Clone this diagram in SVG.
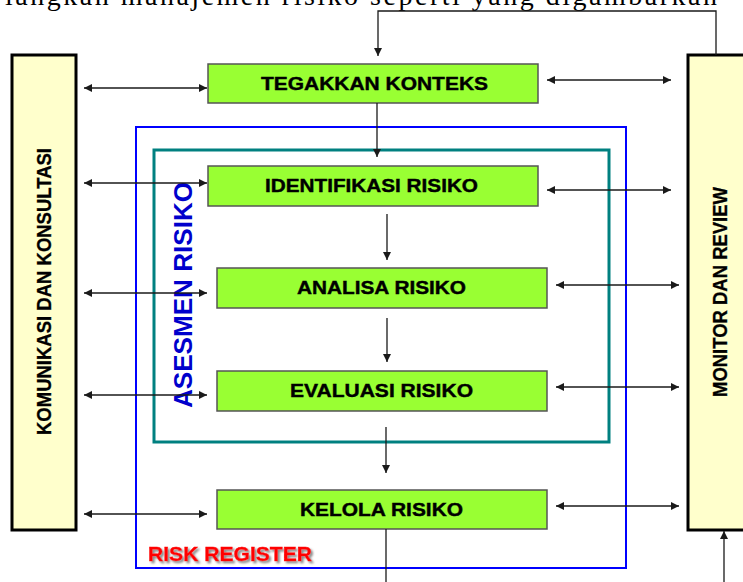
<svg xmlns="http://www.w3.org/2000/svg" width="743" height="582" viewBox="0 0 743 582">
  <style>
    .step { fill: #99FF33; stroke: #555555; stroke-width: 1.5; }
    .side { fill: #FFFFCC; stroke: #000000; stroke-width: 3; }
    .lbl { font-family: "Liberation Sans", Arial, sans-serif; font-weight: bold; font-size: 18px; fill: #000000; text-anchor: middle; stroke: #000000; stroke-width: 0.4; }
    .vlbl { font-family: "Liberation Sans", Arial, sans-serif; font-weight: bold; font-size: 20px; fill: #000000; text-anchor: middle; stroke: #000000; stroke-width: 0.3; }
    .wire { fill: none; stroke: #1a1a1a; stroke-width: 1.3; }
    .doc { font-family: "Liberation Serif", "Times New Roman", serif; font-size: 28px; fill: #000000; }
  </style>
  <defs>
    <marker id="head" viewBox="0 0 10 10" refX="10" refY="5" markerWidth="10" markerHeight="8" markerUnits="userSpaceOnUse" orient="auto-start-reverse">
      <path d="M0,0 L10,5 L0,10 z" fill="#1a1a1a"/>
    </marker>
    <filter id="shadow" x="-10%" y="-30%" width="130%" height="180%">
      <feGaussianBlur in="SourceAlpha" stdDeviation="0.8"/>
      <feOffset dx="2" dy="2" result="b"/>
      <feFlood flood-color="#888888"/>
      <feComposite in2="b" operator="in"/>
      <feMerge><feMergeNode/><feMergeNode in="SourceGraphic"/></feMerge>
    </filter>
  </defs>

  <rect width="743" height="582" fill="#FFFFFF"/>

  <!-- running document text above the figure, cut off by the top edge -->
  <text class="doc" x="5" y="5" textLength="712" lengthAdjust="spacing">langkah manajemen risiko seperti yang digambarkan</text>

  <!-- frames -->
  <g id="risk-register">
    <rect x="136" y="127" width="490" height="441" fill="none" stroke="#0000FF" stroke-width="2"/>
    <text x="148" y="561" font-family="'Liberation Sans', Arial, sans-serif" font-weight="bold" font-size="20" fill="#FF0000" stroke="#FF0000" stroke-width="0.4" textLength="164" lengthAdjust="spacingAndGlyphs" filter="url(#shadow)">RISK REGISTER</text>
  </g>
  <g id="asesmen-risiko">
    <rect x="154" y="150" width="455" height="292" fill="none" stroke="#008080" stroke-width="3"/>
    <text transform="translate(192,295) rotate(-90)" text-anchor="middle" font-family="'Liberation Sans', Arial, sans-serif" font-weight="bold" font-size="26" fill="#0000CC" textLength="226" lengthAdjust="spacingAndGlyphs">ASESMEN RISIKO</text>
  </g>

  <!-- side bars -->
  <g id="komunikasi">
    <rect class="side" x="12" y="55" width="64" height="475"/>
    <text class="vlbl" transform="translate(51,291.5) rotate(-90)" textLength="287" lengthAdjust="spacingAndGlyphs">KOMUNIKASI DAN KONSULTASI</text>
  </g>
  <g id="monitor">
    <rect class="side" x="688" y="55" width="60" height="475"/>
    <text class="vlbl" transform="translate(727,292) rotate(-90)" textLength="210" lengthAdjust="spacingAndGlyphs">MONITOR DAN REVIEW</text>
  </g>

  <!-- process steps -->
  <g id="tegakkan-konteks">
    <rect class="step" x="208" y="64" width="330" height="39"/>
    <text class="lbl" x="374.5" y="90" textLength="227" lengthAdjust="spacingAndGlyphs">TEGAKKAN KONTEKS</text>
  </g>
  <g id="identifikasi-risiko">
    <rect class="step" x="208" y="166" width="330" height="40"/>
    <text class="lbl" x="371.5" y="192" textLength="213" lengthAdjust="spacingAndGlyphs">IDENTIFIKASI RISIKO</text>
  </g>
  <g id="analisa-risiko">
    <rect class="step" x="217" y="268" width="330" height="40"/>
    <text class="lbl" x="381.5" y="294" textLength="169" lengthAdjust="spacingAndGlyphs">ANALISA RISIKO</text>
  </g>
  <g id="evaluasi-risiko">
    <rect class="step" x="217" y="371" width="330" height="40"/>
    <text class="lbl" x="381.5" y="397" textLength="183" lengthAdjust="spacingAndGlyphs">EVALUASI RISIKO</text>
  </g>
  <g id="kelola-risiko">
    <rect class="step" x="217" y="490" width="330" height="39"/>
    <text class="lbl" x="381.5" y="516" textLength="163" lengthAdjust="spacingAndGlyphs">KELOLA RISIKO</text>
  </g>

  <!-- connectors -->
  <g id="connectors">
    <!-- feedback loop from monitoring back to context -->
    <polyline class="wire" points="716,55 716,11 378,11 378,56" marker-end="url(#head)"/>
    <!-- main flow -->
    <line class="wire" x1="377" y1="103" x2="377" y2="157" marker-end="url(#head)"/>
    <line class="wire" x1="387" y1="214" x2="387" y2="260" marker-end="url(#head)"/>
    <line class="wire" x1="387" y1="318" x2="387" y2="362" marker-end="url(#head)"/>
    <line class="wire" x1="386" y1="427" x2="386" y2="473" marker-end="url(#head)"/>
    <line class="wire" x1="386" y1="529" x2="386" y2="582"/>
    <line class="wire" x1="724" y1="582" x2="724" y2="531" marker-end="url(#head)"/>
    <!-- communication links -->
    <line class="wire" x1="84" y1="88" x2="207" y2="88" marker-start="url(#head)" marker-end="url(#head)"/>
    <line class="wire" x1="84" y1="183" x2="207" y2="183" marker-start="url(#head)" marker-end="url(#head)"/>
    <line class="wire" x1="84" y1="293" x2="207" y2="293" marker-start="url(#head)" marker-end="url(#head)"/>
    <line class="wire" x1="84" y1="395" x2="207" y2="395" marker-start="url(#head)" marker-end="url(#head)"/>
    <line class="wire" x1="84" y1="514" x2="207" y2="514" marker-start="url(#head)" marker-end="url(#head)"/>
    <!-- monitoring links -->
    <line class="wire" x1="547" y1="80" x2="671" y2="80" marker-start="url(#head)" marker-end="url(#head)"/>
    <line class="wire" x1="547" y1="190" x2="671" y2="190" marker-start="url(#head)" marker-end="url(#head)"/>
    <line class="wire" x1="556" y1="285" x2="679" y2="285" marker-start="url(#head)" marker-end="url(#head)"/>
    <line class="wire" x1="556" y1="387" x2="679" y2="387" marker-start="url(#head)" marker-end="url(#head)"/>
    <line class="wire" x1="556" y1="506" x2="679" y2="506" marker-start="url(#head)" marker-end="url(#head)"/>
  </g>
</svg>
